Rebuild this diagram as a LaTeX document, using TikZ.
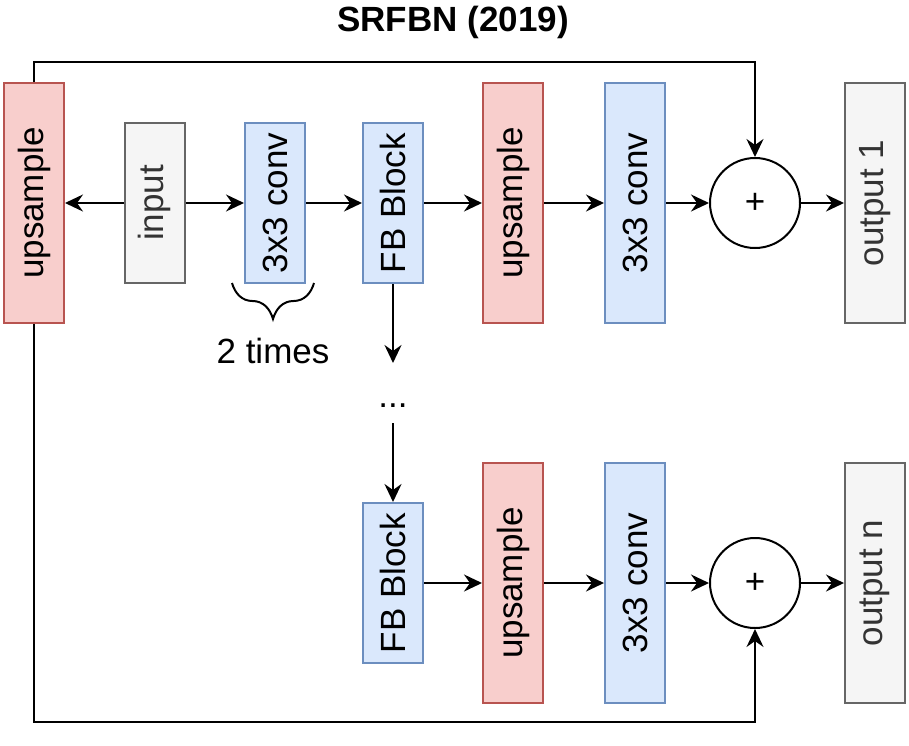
\documentclass[tikz,border=0pt]{standalone}
\usepackage{fontspec}
\setmainfont{Liberation Sans}
\usepackage{xcolor}
\usetikzlibrary{arrows.meta,decorations.pathreplacing}
\definecolor{upfill}{HTML}{F8CECC}
\definecolor{upline}{HTML}{B85450}
\definecolor{convfill}{HTML}{DAE8FC}
\definecolor{convline}{HTML}{6C8EBF}
\definecolor{iofill}{HTML}{F5F5F5}
\definecolor{ioline}{HTML}{666666}
\definecolor{iotext}{HTML}{333333}
\newcommand{\vtext}[1]{\rotatebox{90}{#1}}
\tikzset{
  blk/.style={draw,line width=2pt,inner sep=0pt,font=\fontsize{35}{42}\selectfont},
  upbox/.style={blk,fill=upfill,draw=upline,minimum width=60pt,minimum height=240pt},
  convbox/.style={blk,fill=convfill,draw=convline,minimum width=60pt,minimum height=#1},
  convbox/.default=160pt,
  iobox/.style={blk,fill=iofill,draw=ioline,text=iotext,minimum width=60pt,minimum height=#1},
  iobox/.default=240pt,
  sumnode/.style={blk,circle,minimum size=90pt},
}

\begin{document}
\begin{tikzpicture}[x=1pt,y=-1pt,>={Stealth[length=18pt,width=17pt,inset=6pt]},line width=2pt]
  \useasboundingbox (0,0) rectangle (909,745);
  \node[font=\bfseries\fontsize{35}{42}\selectfont] (title) at (453,22) {SRFBN (2019)};
  % first output
  \node[upbox] (upsL) at (34,203) {\vtext{upsample}};
  \node[iobox=160pt] (input) at (154.5,203) {\vtext{input}};
  \node[convbox] (conv1) at (275,203) {\vtext{3x3 conv}};
  \node[convbox] (fb1) at (393,203) {\vtext{FB Block}};
  \node[upbox] (up1) at (513,203) {\vtext{upsample}};
  \node[convbox=240pt] (conv2) at (635,203) {\vtext{3x3 conv}};
  \node[sumnode] (sum1) at (755,203) {+};
  \node[iobox] (out1) at (875,203) {\vtext{output 1}};
  % repeat
  \draw[decorate,decoration={brace,amplitude=36pt}] (314,283) -- (232,283);
  \node[font=\fontsize{35}{42}\selectfont] (times) at (273,351) {2 times};
  \node[inner sep=0pt,minimum height=58pt,font=\fontsize{35}{42}\selectfont] (dots) at (393,393)
    {\raisebox{-14pt}[0pt][0pt]{...}};
  % n-th output
  \node[convbox] (fb2) at (393,583) {\vtext{FB Block}};
  \node[upbox] (up2) at (513,583) {\vtext{upsample}};
  \node[convbox=240pt] (conv3) at (635,583) {\vtext{3x3 conv}};
  \node[sumnode] (sum2) at (755,583) {+};
  \node[iobox] (outn) at (875,583) {\vtext{output n}};
  \coordinate (topy) at (0,62);
  \coordinate (boty) at (0,722);

  \foreach \a/\b in {input/upsL,input/conv1,conv1/fb1,fb1/up1,up1/conv2,conv2/sum1,sum1/out1,
                     fb2/up2,up2/conv3,conv3/sum2,sum2/outn,fb1/dots,dots/fb2}
    \draw[->] (\a) -- (\b);
  \draw[->] (upsL.north) -- (upsL.north |- topy) -| (sum1.north);
  \draw[->] (upsL.south) -- (upsL.south |- boty) -| (sum2.south);
\end{tikzpicture}
\end{document}
